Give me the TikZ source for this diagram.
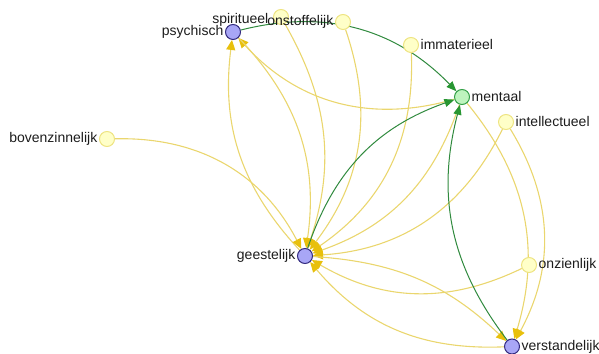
\documentclass[tikz,border=0pt]{standalone}
\usepackage{fontspec}
\setmainfont{Liberation Sans}
\usetikzlibrary{arrows.meta}
\pgfdeclarelayer{edges}
\pgfsetlayers{edges,main}

\definecolor{edgeY}{RGB}{234,214,110}
\definecolor{tipY}{RGB}{232,192,12}
\definecolor{edgeG}{RGB}{48,138,62}
\definecolor{tipG}{RGB}{40,150,50}
\definecolor{fillB}{RGB}{168,166,246}
\definecolor{drawB}{RGB}{52,44,128}
\definecolor{fillG}{RGB}{190,244,190}
\definecolor{drawG}{RGB}{52,160,72}
\definecolor{fillY}{RGB}{255,255,200}
\definecolor{drawY}{RGB}{238,228,130}
\definecolor{labelc}{RGB}{28,28,28}

\begin{document}
\begin{tikzpicture}[x=1pt,y=1pt,
  vtx/.style={circle, minimum size=15pt, inner sep=0pt, line width=1pt},
  vblue/.style={vtx, fill=fillB, draw=drawB},
  vgreen/.style={vtx, fill=fillG, draw=drawG},
  vyellow/.style={vtx, fill=fillY, draw=drawY},
  lbl/.style={font=\fontsize{14}{16}\selectfont, text=labelc, inner sep=1.5pt},
  lblL/.style={lbl, anchor=east},
  lblR/.style={lbl, anchor=west},
  yedge/.style={draw=edgeY, line width=1.1pt, -{Triangle[length=10pt,width=9pt,color=tipY]}},
  gedge/.style={draw=edgeG, line width=1pt, -{Triangle[length=10pt,width=8pt,color=tipG]}},
]
\useasboundingbox (0,0) rectangle (599,353);
\clip (0,0) rectangle (599,353);

% vertices
\node[vblue]   (psychisch)      at (233,321) {};
\node[vyellow] (spiritueel)     at (281,336) {};
\node[vyellow] (onstoffelijk)   at (343,331) {};
\node[vyellow] (immaterieel)    at (411,308) {};
\node[vgreen]  (mentaal)        at (462,256) {};
\node[vyellow] (intellectueel)  at (506,231) {};
\node[vyellow] (bovenzinnelijk) at (107,214) {};
\node[vblue]   (geestelijk)     at (305,97) {};
\node[vyellow] (onzienlijk)     at (529,88) {};
\node[vblue]   (verstandelijk)  at (512,6.5) {};

% labels
\node[lblL] (tpsychisch)      at (psychisch.west) {psychisch};
\node[lblL, yshift=-3pt] (tspiritueel) at ([xshift=-3pt]spiritueel.west) {spiritueel};
\node[lblL] (tonstoffelijk)   at (onstoffelijk.west) {onstoffelijk};
\node[lblL] (tbovenzinnelijk) at (bovenzinnelijk.west) {bovenzinnelijk};
\node[lblL] (tgeestelijk)     at (geestelijk.west) {geestelijk};
\node[lblR] (timmaterieel)    at (immaterieel.east) {immaterieel};
\node[lblR] (tmentaal)        at (mentaal.east) {mentaal};
\node[lblR] (tintellectueel)  at (intellectueel.east) {intellectueel};
\node[lblR] (tonzienlijk)     at (onzienlijk.east) {onzienlijk};
\node[lblR] (tverstandelijk)  at (verstandelijk.east) {verstandelijk};

% connectors
\begin{pgfonlayer}{edges}
  \draw[yedge] (mentaal) to[bend left=32] (psychisch);
  \draw[yedge] (geestelijk) to[bend left=25] (psychisch);
  \draw[yedge] (psychisch) to[bend left=26] (geestelijk);
  \draw[yedge] (spiritueel) to[bend left=24] (geestelijk);
  \draw[yedge] (onstoffelijk) to[bend left=28] (geestelijk);
  \draw[yedge] (immaterieel) to[bend left=29] (geestelijk);
  \draw[yedge] (mentaal) to[bend left=26] (geestelijk);
  \draw[yedge] (intellectueel) to[bend left=30] (geestelijk);
  \draw[yedge] (bovenzinnelijk) to[bend left=32] (geestelijk);
  \draw[yedge] (onzienlijk) to[bend left=28] (geestelijk);
  \draw[yedge] (verstandelijk) to[bend left=26] (geestelijk);
  \draw[yedge] (geestelijk) to[bend left=20] (verstandelijk);
  \draw[yedge] (mentaal) to[bend left=28] (verstandelijk);
  \draw[yedge] (intellectueel) to[bend left=30] (verstandelijk);
  \draw[gedge] (psychisch) to[bend left=30] (mentaal);
  \draw[gedge] (geestelijk) to[bend left=26] (mentaal);
  \draw[gedge] (verstandelijk) to[bend left=26] (mentaal);
\end{pgfonlayer}
\end{tikzpicture}
\end{document}
